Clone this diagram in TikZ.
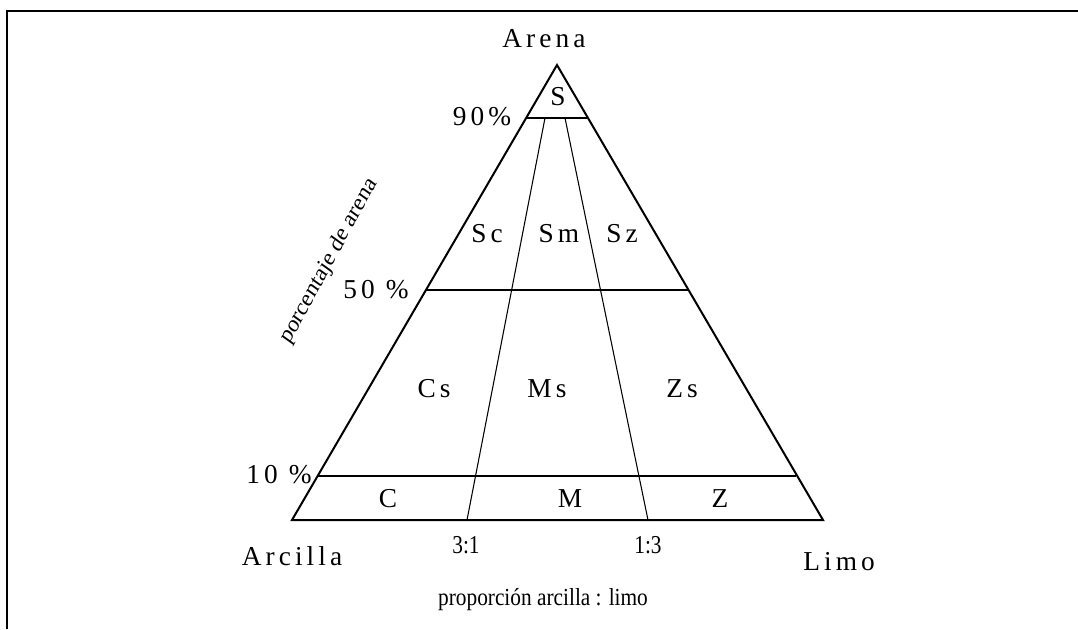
\documentclass[tikz,border=0pt]{standalone}
\usepackage{fontspec}
\setmainfont{Liberation Serif}
\newfontfamily\spaced[LetterSpace=15]{Liberation Serif}
\tikzset{
  lbl/.style={font=\spaced\fontsize{20.5}{24}\selectfont, anchor=base, inner sep=0pt},
  small/.style={font=\fontsize{16}{19}\selectfont, anchor=base, inner sep=0pt, yscale=1.15},
  rim/.style={line width=1.5pt},
  cut/.style={line width=0.8pt},
}
\begin{document}
\begin{tikzpicture}[x=0.75pt,y=-0.75pt]
\useasboundingbox (0,0) rectangle (1078,629);
\draw[line width=1.5pt] (6.5,629) -- (6.5,10.5) -- (1078,10.5);
% triangle corners
\coordinate (top) at (557,65);
\coordinate (cl) at (292,520);
\coordinate (lm) at (823,520);
\draw[rim] (top) -- (cl) -- (lm) -- cycle;
% sand levels
\coordinate (s90l) at (526,118);
\coordinate (s90r) at (588,118);
\coordinate (s50l) at (426,290);
\coordinate (s50r) at (688,290);
\coordinate (s10l) at (318,476);
\coordinate (s10r) at (796,476);
\draw[cut] (s90l) -- (s90r);
\draw[cut] (s50l) -- (s50r);
\draw[cut] (s10l) -- (s10r);
% clay : silt ratios
\coordinate (r31a) at (545,118);
\coordinate (r31b) at (467,520);
\coordinate (r13a) at (565,118);
\coordinate (r13b) at (648,520);
\draw[cut] (r31a) -- (r31b);
\draw[cut] (r13a) -- (r13b);
% corners
\node[lbl] (arena) at (544,47) {Arena};
\node[lbl] (arcilla) at (292,565) {Arcilla};
\node[lbl] (limo) at (839,570) {Limo};
% levels
\node[lbl] (p90) at (482,125) {90\%};
\node[lbl] (p50) at (376,298) {50 \%};
\node[lbl] (p10) at (279,483) {10 \%};
% classes
\node[lbl] (S) at (558,105) {S};
\node[lbl] (Sc) at (487,242) {Sc};
\node[lbl] (Sm) at (559,242) {Sm};
\node[lbl] (Sz) at (622,242) {Sz};
\node[lbl] (Cs) at (434,397) {Cs};
\node[lbl] (Ms) at (547,397) {Ms};
\node[lbl] (Zs) at (682,397) {Zs};
\node[lbl] (C) at (388,507) {C};
\node[lbl] (M) at (570,507) {M};
\node[lbl] (Z) at (720,507) {Z};
% axis texts
\node[small, yscale=1.05] (q31) at (466,553) {3:1};
\node[small, yscale=1.05] (q13) at (648,553) {1:3};
\node[small] (ratio) at (543,605) {proporción arcilla : limo};
\node[small, anchor=center, rotate=58] (sand) at (329,261) {porcentaje de arena};
\end{tikzpicture}
\end{document}
